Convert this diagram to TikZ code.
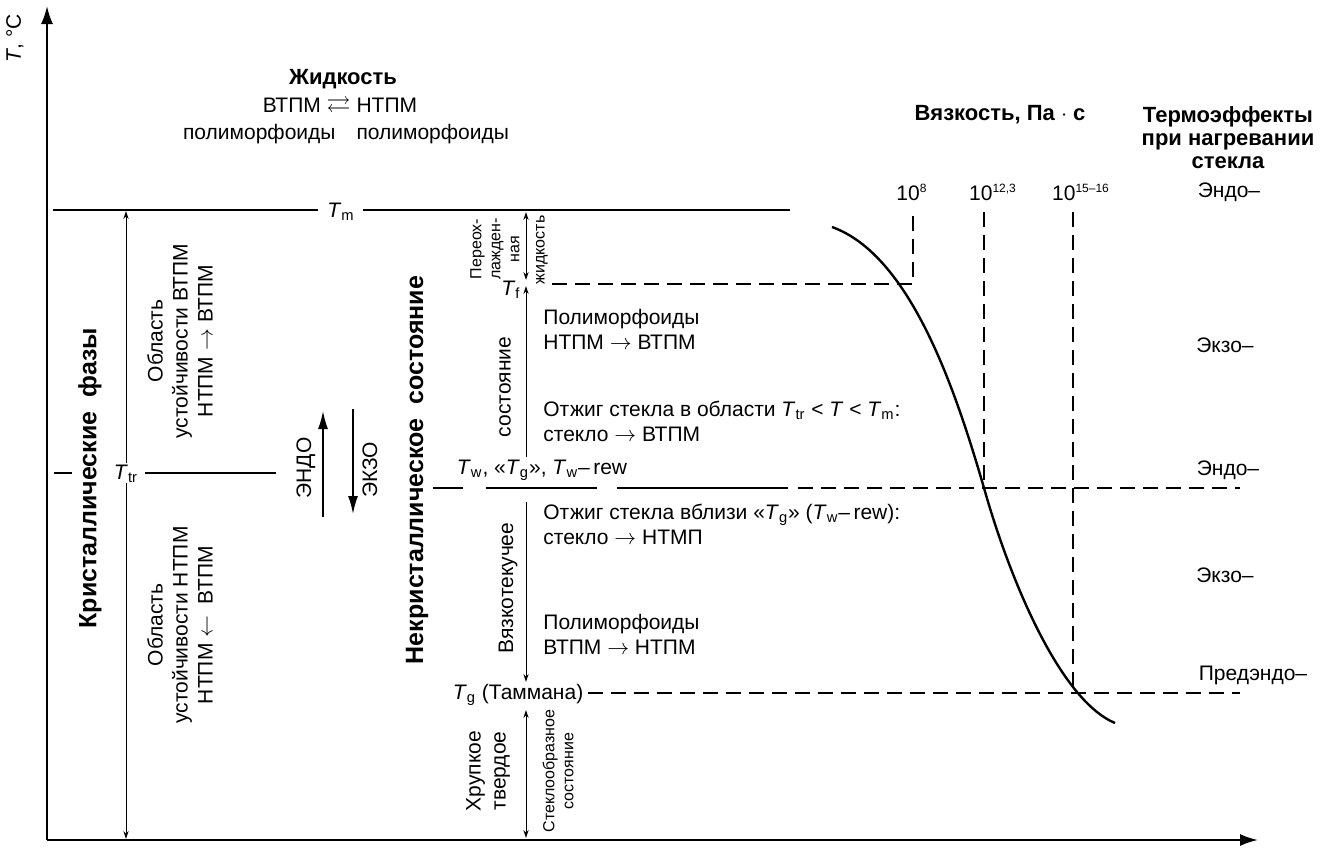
\documentclass[tikz,border=0pt]{standalone}
\usepackage{amsmath,amssymb}
\usepackage{fontspec}
\setmainfont{Liberation Sans}
\usetikzlibrary{arrows.meta}
\newcommand\mysup[1]{\textsuperscript{\fontsize{6}{6}\selectfont #1}}
\tikzset{
  ax/.style={line width=1pt,-{Latex[length=9pt,width=6pt]}},
  lvl/.style={line width=1.2pt},
  lvlthin/.style={line width=0.8pt},
  sarr/.style={line width=0.5pt,-{Stealth[length=4pt,width=2.6pt]}},
  darr/.style={line width=0.5pt,{Stealth[length=4pt,width=2.6pt]}-{Stealth[length=4pt,width=2.6pt]}},
  dsh/.style={line width=0.75pt,dash pattern=on 7.5pt off 4pt},
  bigarr/.style={line width=0.8pt,-{Latex[length=9pt,width=5pt]}},
  rot/.style={rotate=90,align=center},
  hb/.style={font=\fontsize{11}{11.5}\selectfont\bfseries},
  hbig/.style={font=\fontsize{12.5}{15}\selectfont\bfseries},
  small/.style={font=\fontsize{8}{9.5}\selectfont},
  every node/.style={inner sep=0pt},
}
\begin{document}
\begin{tikzpicture}[x=0.5pt,y=-0.5pt,font=\fontsize{10.5}{12.5}\selectfont]
\useasboundingbox (0,0) rectangle (1324,848);
% axes
\coordinate (O) at (47,840);
\coordinate (Ytip) at (47,6);
\coordinate (Xtip) at (1258,840);
\draw[ax] (O) -- (Ytip);
\draw[ax] (O) -- (Xtip);
\node[rot] (Tlab) at (15,38) {\textit{T}, °C};
% top texts
\node[hb] (liq) at (343,79) {Жидкость};
\node (eq) at (340,107) {ВТПМ {\large$\rightleftarrows$} НТПМ};
\node (poly) at (346,134) {полиморфоиды\quad полиморфоиды};
% Tm
\node (Tm) at (341,212) {\textit{T}\textsubscript{m}};
\coordinate (TmL) at (53,210); \coordinate (TmA) at (318,210);
\coordinate (TmB) at (363,210); \coordinate (TmR) at (790,210);
\draw[lvl] (TmL) -- (TmA);
\draw[lvl] (TmB) -- (TmR);
% Ttr
\node (Ttr) at (126,474) {\textit{T}\textsubscript{tr}};
\coordinate (TtrTop) at (126,211);
\coordinate (TtrBot) at (126,839);
\draw[sarr] (126,463) -- (TtrTop);
\draw[sarr] (126,483) -- (TtrBot);
\draw[lvl] (54,473) -- (72,473);
\draw[lvl] (145,473) -- (276,473);
\node[hbig,rotate=90] (cryst) at (90,478) {Кристаллические\ \ фазы};
\node[rot] (obl1) at (180,341) {Область\\устойчивости ВТПМ\\НТПМ $\rightarrow$ ВТПМ};
\node[rot] (obl2) at (180,625) {Область\\устойчивости НТПМ\\НТПМ $\leftarrow$\ \ ВТПМ};
% endo/exo
\node[rot] (endo) at (306,468) {ЭНДО};
\node[rot] (exo) at (370,470) {ЭКЗО};
\coordinate (en1) at (323,517); \coordinate (en2) at (323,411);
\coordinate (ex1) at (353,409); \coordinate (ex2) at (353,514);
\draw[bigarr] (en1) -- (en2);
\draw[bigarr] (ex1) -- (ex2);
\node[hbig,rotate=90] (noncr) at (417,470) {Некристаллическое\ \ состояние};
% supercooled liquid
\node[rot,small] (super) at (495,249) {Переох-\\лажден-\\ная};
\node[rot,small] (zhid) at (542,250) {жидкость};
\node (Tf) at (511,290) {\textit{T}\textsubscript{f}};
\draw[darr] (526,212) -- (526,280);
\draw[sarr] (526,457) -- (526,286);
\node[rot] (sost) at (505,387) {состояние};
% Tw line
\node (Tw) at (542,470) {\textit{T}\textsubscript{w}, «\textit{T}\textsubscript{g}», \textit{T}\textsubscript{w}–\,rew};
\draw[lvlthin] (433,488) -- (463,488);
\draw[lvlthin] (486,488) -- (597,488);
\draw[lvlthin] (617,488) -- (788,488);
\coordinate (TwD1) at (798,488); \coordinate (TwD2) at (1240,488);
\draw[dsh] (TwD1) -- (TwD2);
\node[rot] (vyaz) at (508,588) {Вязкотекучее};
\draw[sarr] (526,502) -- (526,682);
% Tg
\node (Tg) at (518,695) {\textit{T}\textsubscript{g} (Таммана)};
\coordinate (TgD) at (1240,693);
\draw[dsh] (Tg.east) ++(4,-2) -- (TgD);
\draw[darr] (526,710) -- (526,838);
\node[rot] (hrup) at (488,771) {Хрупкое\\твердое};
\node[rot,small] (stekl) at (558,771) {Стеклообразное\\состояние};
% middle texts
\node[anchor=west,align=left] (t1) at (543,329) {Полиморфоиды\\НТПМ $\rightarrow$ ВТПМ};
\node[anchor=west,align=left] (t2) at (543,421) {Отжиг стекла в области \textit{T}\textsubscript{tr} < \textit{T} < \textit{T}\textsubscript{m}:\\стекло $\rightarrow$ ВТПМ};
\node[anchor=west,align=left] (t3) at (543,524) {Отжиг стекла вблизи «\textit{T}\textsubscript{g}» (\textit{T}\textsubscript{w}–\,rew):\\стекло $\rightarrow$ НТМП};
\node[anchor=west,align=left] (t4) at (543,634) {Полиморфоиды\\ВТПМ $\rightarrow$ НТПМ};
% viscosity
\node[hb] (visc) at (1000,115) {Вязкость,\ Па\ $\cdot$\ с};
\node[hb,align=center] (thermo) at (1228,138) {Термоэффекты\\при нагревании\\стекла};
\node (v8) at (912,192) {10\mysup{8}};
\node (v12) at (993,192) {10\mysup{12,3}};
\node (v15) at (1081,192) {10\mysup{15–16}};
\node (e1) at (1229,192) {Эндо–};
\node (e2) at (1225,345) {Экзо–};
\node (e3) at (1228,470) {Эндо–};
\node (e4) at (1225,575) {Экзо–};
\node (e5) at (1253,675) {Предэндо–};
% dashed guides
\coordinate (TfD) at (552,284);
\coordinate (c8) at (913,284);
\draw[dsh] (TfD) -- (c8) -- (913,212);
\draw[dsh] (984,212) -- (984,488);
\draw[dsh] (1073,212) -- (1073,693);
% viscosity curve
\draw[lvl] (832,227) .. controls (910,255) and (955,388) .. (984,488)
                     .. controls (1010,580) and (1060,700) .. (1115,723);
\end{tikzpicture}
\end{document}
